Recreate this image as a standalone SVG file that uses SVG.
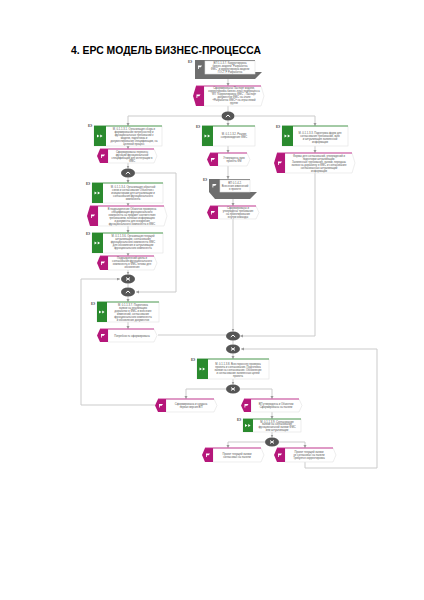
<svg xmlns="http://www.w3.org/2000/svg" width="424" height="600" viewBox="0 0 424 600">
<style>
text{font-family:"Liberation Sans",Arial,sans-serif}
.title{font-size:10.4px;font-weight:700;fill:#000}
.t{font-size:2.7px;fill:#555;text-anchor:middle}
.tag{font-size:3px;font-weight:700;fill:#555}
.body{fill:#fff;stroke:#e2e2e2;stroke-width:.6}
.gn{fill:#2a8a2e}
.mg{fill:#b5177a}
.gy{fill:#6e6e6e}
.gw{fill:#555}
.topg{stroke:#2a8a2e;stroke-width:.8;fill:none}
.topm{stroke:#c2288a;stroke-width:.9;fill:none}
.glyph{stroke:#fff;stroke-width:1;fill:none}
.c{fill:none;stroke:#cbcbcb;stroke-width:1}
.ca{fill:none;stroke:#cbcbcb;stroke-width:1;marker-end:url(#a)}
</style>
<defs>
<marker id="a" markerWidth="4" markerHeight="4" refX="3" refY="1.5" orient="auto" markerUnits="userSpaceOnUse"><path d="M0 0L3 1.5L0 3z" fill="#999"/></marker>
<g id="ff"><path d="M-3 -1.6L-.6 0L-3 1.6zM.2 -1.6L2.6 0L.2 1.6z" fill="#fff"/></g>
<g id="fl"><path d="M-2 2V-1.6H2L.8 .2H-1.2V2z" fill="#fff"/></g>
<g id="up"><path class="glyph" d="M-2.2 1L0 -1L2.2 1"/></g>
<g id="xx"><path class="glyph" d="M-2 -1.4L2 1.4M-2 1.4L2 -1.4"/></g>
</defs>
<text class="title" x="71" y="54">4. ЕРС МОДЕЛЬ БИЗНЕС-ПРОЦЕССА</text>

<g id="connectors">
<path class="ca" d="M228 79V86"/>
<path class="c" d="M228 106V112"/>
<path class="ca" d="M221 116H128V126"/>
<path class="ca" d="M235 116H315V126"/>
<path class="ca" d="M228 120.500V126"/>
<path class="ca" d="M128 146V149"/>
<path class="ca" d="M128 163V168.500"/>
<path class="ca" d="M128 177.500V183"/>
<path class="ca" d="M128 203V206"/>
<path class="ca" d="M128 226V233"/>
<path class="ca" d="M128 253V256"/>
<path class="ca" d="M128 270V274.500"/>
<path class="c" d="M128 283.500V287.500"/>
<path class="ca" d="M128 296.500V302"/>
<path class="ca" d="M128 322V329"/>
<path class="ca" d="M135 173H176V292H136"/>
<path class="ca" d="M81 405V279H120"/>
<path class="c" d="M81 405H155"/>
<path class="ca" d="M228 146V153"/>
<path class="ca" d="M228 166V179"/>
<path class="ca" d="M233 199V206"/>
<path class="ca" d="M233 219V331.500"/>
<path class="ca" d="M315 146V153"/>
<path class="ca" d="M315 173V336H240"/>
<path class="c" d="M158 335H226"/>
<path class="c" d="M233 340.500V344.500"/>
<path class="ca" d="M233 353.500V359"/>
<path class="ca" d="M233 379V384.500"/>
<path class="ca" d="M226 389H186V399"/>
<path class="ca" d="M240 389H272V399"/>
<path class="ca" d="M272 412V419"/>
<path class="ca" d="M272 432V437.500"/>
<path class="ca" d="M265 442H228V448"/>
<path class="ca" d="M279 442H305V448"/>
<path class="ca" d="M305 462V468H377V349H241"/>
</g>

<g id="n1"><text class="tag" x="188" y="62.500">ЕЭ</text>
<path class="gy" d="M195 60H205V60H255V72L262 72L255 79H205L200 79H195z"/>
<rect class="body" x="205" y="61" width="50" height="13"/>
<use href="#fl" x="200" y="67"/>
<text class="t"><tspan x="230" y="63.500">ВП 1.1.3.7. Корректировка</tspan><tspan x="230" y="66.500">бизнес-модели "Разработка</tspan><tspan x="230" y="69.500">ФМС" и корректировка модели</tspan><tspan x="230" y="72.500">ГОСТ Р Разработка</tspan></text></g>

<g id="e1"><path class="body" d="M204 86H261L264 96L261 106H204z"/><path class="mg" d="M204 86H196L193 96L196 106H204z"/><path class="topm" d="M196 86H261"/>
<use href="#fl" x="198.500" y="96"/>
<text class="t"><tspan x="234" y="89">Сформированы Паспорт модели,</tspan><tspan x="234" y="92">корректировка бизнес-план подпроцесса</tspan><tspan x="234" y="95">ФП "Корректировка ФМС", Паспорт</tspan><tspan x="234" y="98">документов ФМС на этапе</tspan><tspan x="234" y="101">«Разработка ФМС» на отраслевой</tspan><tspan x="234" y="104">группе</tspan></text></g>

<g id="g1"><ellipse class="gw" cx="228" cy="116" rx="6.500" ry="4.500"/><use href="#up" x="228" y="116"/></g>

<g id="f1"><text class="tag" x="88" y="126.500">ЕЭ</text><rect class="body" x="94" y="126" width="68" height="20"/><rect class="gn" x="94" y="126" width="12" height="20"/><path class="topg" d="M94 126H162"/><use href="#ff" x="100" y="136"/>
<text class="t"><tspan x="134" y="130">М. 0.1.1.3.1. Организация сбора и</tspan><tspan x="134" y="133">формирование потребностей и</tspan><tspan x="134" y="136">функциональных требований к</tspan><tspan x="134" y="139">модели, подготовка и</tspan><tspan x="134" y="142">документирование спецификации, на</tspan><tspan x="134" y="145">целевой процесс</tspan></text></g>

<g id="e2"><path class="body" d="M108 149H154L157 156L154 163H108z"/><path class="mg" d="M108 149H100L97 156L100 163H108z"/><path class="topm" d="M100 149H154"/><use href="#fl" x="103" y="156"/>
<text class="t"><tspan x="132" y="152.500">Сформированы перечень</tspan><tspan x="132" y="155.500">функций функциональной</tspan><tspan x="132" y="158.500">спецификации для интеграции в</tspan><tspan x="132" y="161.500">ФМС</tspan></text></g>

<g id="g2"><ellipse class="gw" cx="128" cy="173" rx="7" ry="4.500"/><use href="#up" x="128" y="173"/></g>

<g id="f2"><text class="tag" x="86" y="185">ЕЭ</text><rect class="body" x="92" y="183" width="71" height="20"/><rect class="gn" x="92" y="183" width="11" height="20"/><path class="topg" d="M92 183H163"/><use href="#ff" x="97.500" y="193"/>
<text class="t"><tspan x="133" y="188">М. 0.1.1.3.4. Организация обратной</tspan><tspan x="133" y="191">связи и согласование Объектов с</tspan><tspan x="133" y="194">инициаторами для актуализации и</tspan><tspan x="133" y="197">согласования функционального</tspan><tspan x="133" y="200">компонента</tspan></text></g>

<g id="e3"><path class="body" d="M98 206H164L167 216L164 226H98z"/><path class="mg" d="M98 206H90L87 216L90 226H98z"/><path class="topm" d="M90 206H164"/><use href="#fl" x="93" y="216"/>
<text class="t"><tspan x="132" y="210">В подразделение Объектов проверена</tspan><tspan x="132" y="213">спецификация функционального</tspan><tspan x="132" y="216">компонента на предмет соответствия</tspan><tspan x="132" y="219">требованиям, включая информацию</tspan><tspan x="132" y="222">и документы для внедрения</tspan><tspan x="132" y="225">функционального компонента в ФМС</tspan></text></g>

<g id="f3"><text class="tag" x="86" y="235">ЕЭ</text><rect class="body" x="92" y="233" width="71" height="20"/><rect class="gn" x="92" y="233" width="11" height="20"/><path class="topg" d="M92 233H163"/><use href="#ff" x="97.500" y="243"/>
<text class="t"><tspan x="133" y="237">М. 0.1.1.3.6. Организация текущей</tspan><tspan x="133" y="240">актуализации, согласования</tspan><tspan x="133" y="243">функционального компонента ФМС</tspan><tspan x="133" y="246">для обновления и актуализации</tspan><tspan x="133" y="249">функционального компонента</tspan></text></g>

<g id="e4"><path class="body" d="M108 256H154L157 263L154 270H108z"/><path class="mg" d="M108 256H100L97 263L100 270H108z"/><path class="topm" d="M100 256H154"/><use href="#fl" x="103" y="263"/>
<text class="t"><tspan x="132" y="259">Подразделений цикла и</tspan><tspan x="132" y="262">согласования функционального</tspan><tspan x="132" y="265">компонента в ФМС готовы для</tspan><tspan x="132" y="268">обновления</tspan></text></g>

<g id="g3"><ellipse class="gw" cx="128" cy="279" rx="7" ry="4.500"/><use href="#xx" x="128" y="279"/></g>
<g id="g4"><ellipse class="gw" cx="128" cy="292" rx="7" ry="4.500"/><use href="#up" x="128" y="292"/></g>

<g id="f4"><text class="tag" x="91" y="304.500">ЕЭ</text><rect class="body" x="97" y="302" width="62" height="20"/><rect class="gn" x="97" y="302" width="10" height="20"/><path class="topg" d="M97 302H159"/><use href="#ff" x="102" y="312"/>
<text class="t"><tspan x="133" y="306">М. 0.1.1.3.7. Подготовка</tspan><tspan x="133" y="309">заявки на реализацию</tspan><tspan x="133" y="312">доработок в ФМС и внесение</tspan><tspan x="133" y="315">изменений, согласование</tspan><tspan x="133" y="318">функционального компонента</tspan><tspan x="133" y="321">и обновление документов</tspan></text></g>

<g id="e5"><path class="body" d="M108 329H154L157 335.500L154 342H108z"/><path class="mg" d="M108 329H100L97 335.500L100 342H108z"/><path class="topm" d="M100 329H154"/><use href="#fl" x="103" y="335.500"/>
<text class="t" x="132" y="336.500">Потребность сформирована</text></g>

<g id="f5"><text class="tag" x="196" y="128">ЕЭ</text><rect class="body" x="202" y="126" width="53" height="20"/><rect class="gn" x="202" y="126" width="11" height="20"/><path class="topg" d="M202 126H255"/><use href="#ff" x="207.500" y="136"/>
<text class="t"><tspan x="234" y="135">М. 0.1.1.3.2. Реализ</tspan><tspan x="234" y="138">сопровождения ФМС</tspan></text></g>

<g id="e6"><path class="body" d="M218 153H247L250 159.500L247 166H218z"/><path class="mg" d="M218 153H210L207 159.500L210 166H218z"/><path class="topm" d="M210 153H247"/><use href="#fl" x="213" y="159.500"/>
<text class="t"><tspan x="234" y="159">Утверждена заяв</tspan><tspan x="234" y="162">проекта ФМ</tspan></text></g>

<g id="n2"><text class="tag" x="203" y="181">ЕЭ</text><path class="gy" d="M209 179H250V192L257 192L250 199H215L209 192z"/><rect class="body" x="220" y="180" width="30" height="12"/><use href="#fl" x="214.500" y="185.500"/>
<text class="t"><tspan x="235" y="184">ВП 0.1.4.2.</tspan><tspan x="235" y="187">Внесения изменений</tspan><tspan x="235" y="190">в проекте</tspan></text></g>

<g id="e7"><path class="body" d="M218 206H256L259 212.500L256 219H218z"/><path class="mg" d="M218 206H210L207 212.500L210 219H218z"/><path class="topm" d="M210 206H256"/><use href="#fl" x="213" y="212.500"/>
<text class="t"><tspan x="238" y="209">Сформированы и</tspan><tspan x="238" y="212">утверждены требования</tspan><tspan x="238" y="215">на проектирование</tspan><tspan x="238" y="218">внутри команды</tspan></text></g>

<g id="f6"><text class="tag" x="276" y="128">ЕЭ</text><rect class="body" x="282" y="126" width="66" height="20"/><rect class="gn" x="282" y="126" width="11" height="20"/><path class="topg" d="M282 126H348"/><use href="#ff" x="287.500" y="136"/>
<text class="t"><tspan x="320" y="133.500">М. 0.1.1.3.3. Подготовка форм для</tspan><tspan x="320" y="136.500">согласования требований, заяв</tspan><tspan x="320" y="139.500">и актуализация заявленной</tspan><tspan x="320" y="142.500">информации</tspan></text></g>

<g id="e8"><path class="body" d="M285 153H352L355 163L352 173H285z"/><path class="mg" d="M285 153H277L274 163L277 173H285z"/><path class="topm" d="M277 153H352"/><use href="#fl" x="280" y="163"/>
<text class="t"><tspan x="319" y="156.500">Формы для согласований, утверждений и</tspan><tspan x="319" y="159.500">подготовки актуализации.</tspan><tspan x="319" y="162.500">Заявленные требования, заявки, передача</tspan><tspan x="319" y="165.500">заявок на доработку в ФМС и согласование</tspan><tspan x="319" y="168.500">согласованных актуализаций</tspan><tspan x="319" y="171.500">информации</tspan></text></g>

<g id="g5"><ellipse class="gw" cx="233" cy="336" rx="7" ry="4.500"/><use href="#up" x="233" y="336"/></g>
<g id="g6"><ellipse class="gw" cx="233" cy="349" rx="7" ry="4.500"/><use href="#xx" x="233" y="349"/></g>

<g id="f7"><text class="tag" x="191" y="361">ЕЭ</text><rect class="body" x="197" y="359" width="72" height="20"/><rect class="gn" x="197" y="359" width="11" height="20"/><path class="topg" d="M197 359H269"/><use href="#ff" x="202.500" y="369"/>
<text class="t"><tspan x="238" y="365">М. 0.1.1.3.8. Всесторонняя проверка</tspan><tspan x="238" y="368">проекта и согласование. Подготовка</tspan><tspan x="238" y="371">заявки на согласование. Обновление</tspan><tspan x="238" y="374">и согласование заявленных целей</tspan><tspan x="238" y="377">проекта</tspan></text></g>

<g id="g7"><ellipse class="gw" cx="233" cy="389" rx="7" ry="4.500"/><use href="#xx" x="233" y="389"/></g>

<g id="e9"><path class="body" d="M166 399H214L217 405.500L214 412H166z"/><path class="mg" d="M166 399H158L155 405.500L158 412H166z"/><path class="topm" d="M158 399H214"/><use href="#fl" x="161" y="405.500"/>
<text class="t"><tspan x="191" y="405">Сформирована и создана</tspan><tspan x="191" y="408">первая версия ВП</tspan></text></g>

<g id="e10"><path class="body" d="M251 399H299L302 405.500L299 412H251z"/><path class="mg" d="M251 399H244L241 405.500L244 412H251z"/><path class="topm" d="M244 399H299"/><use href="#fl" x="246.500" y="405.500"/>
<text class="t"><tspan x="276" y="405">ВП утверждена и Объектом</tspan><tspan x="276" y="408">Сформирована на панели</tspan></text></g>

<g id="f8"><text class="tag" x="237" y="421">ЕЭ</text><rect class="body" x="243" y="419" width="58" height="13"/><rect class="gn" x="243" y="419" width="10" height="13"/><path class="topg" d="M243 419H301"/><use href="#ff" x="248" y="425.500"/>
<text class="t"><tspan x="277" y="422.500">М. 0.1.1.3.9. Согласование</tspan><tspan x="277" y="425">заявки на согласование</tspan><tspan x="277" y="427.500">функциональной заявки ФМС</tspan><tspan x="277" y="430.500">или актуализации</tspan></text></g>

<g id="g8"><ellipse class="gw" cx="272" cy="442" rx="7" ry="4.500"/><use href="#xx" x="272" y="442"/></g>

<g id="e11"><path class="body" d="M213 448H261L264 455L261 462H213z"/><path class="mg" d="M213 448H205L202 455L205 462H213z"/><path class="topm" d="M205 448H261"/><use href="#fl" x="208" y="455"/>
<text class="t"><tspan x="237" y="454.500">Проект текущей заявки</tspan><tspan x="237" y="457.500">согласован на панели</tspan></text></g>

<g id="e12"><path class="body" d="M285 448H333L336 455L333 462H285z"/><path class="mg" d="M285 448H277L274 455L277 462H285z"/><path class="topm" d="M277 448H333"/><use href="#fl" x="280" y="455"/>
<text class="t"><tspan x="309" y="453">Проект текущей заявки</tspan><tspan x="309" y="456">не согласован на панели</tspan><tspan x="309" y="459">Требуется корректировка</tspan></text></g>
</svg>
